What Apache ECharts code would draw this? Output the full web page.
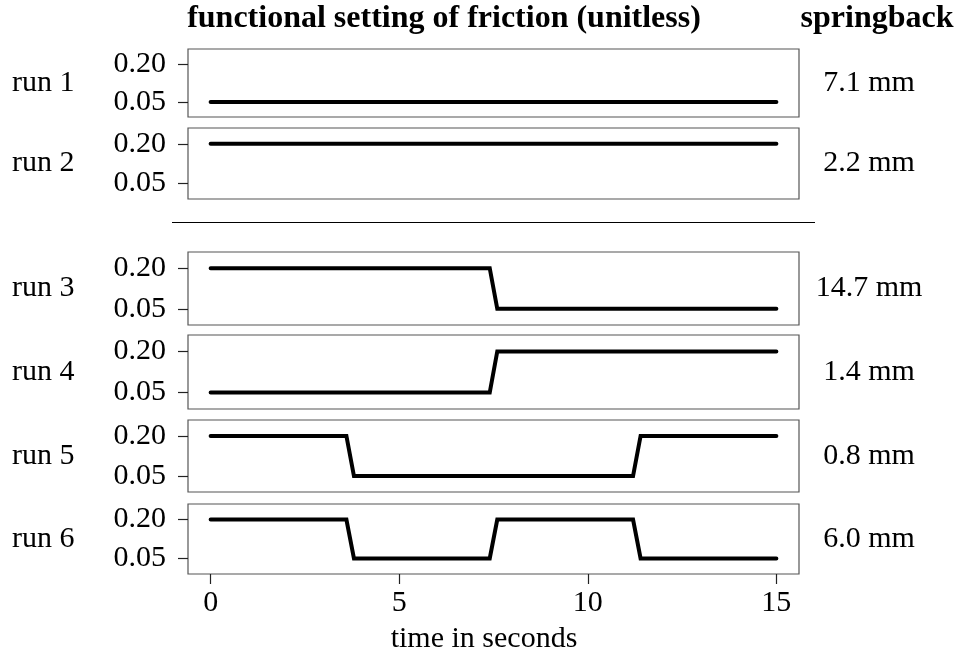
<!DOCTYPE html>
<html>
<head>
<meta charset="utf-8">
<script src="https://cdn.jsdelivr.net/npm/echarts@6/dist/echarts.min.js"></script>
<style>html,body{margin:0;padding:0;background:#fff}#c{width:957px;height:661px}</style>
</head>
<body>
<div id="c"></div>
<script>
// ---- data ----
const runLabels = ["run 1", "run 2", "run 3", "run 4", "run 5", "run 6"];
const springback = ["7.1 mm", "2.2 mm", "14.7 mm", "1.4 mm", "0.8 mm", "6.0 mm"];
const run1Time = [0, 15];
const run1Friction = [0.05, 0.05];
const run2Time = [0, 15];
const run2Friction = [0.2, 0.2];
const run3Time = [0, 7.4, 7.6, 15];
const run3Friction = [0.2, 0.2, 0.05, 0.05];
const run4Time = [0, 7.4, 7.6, 15];
const run4Friction = [0.05, 0.05, 0.2, 0.2];
const run5Time = [0, 3.6, 3.8, 11.2, 11.4, 15];
const run5Friction = [0.2, 0.2, 0.05, 0.05, 0.2, 0.2];
const run6Time = [0, 3.6, 3.8, 7.4, 7.6, 11.2, 11.4, 15];
const run6Friction = [0.2, 0.2, 0.05, 0.05, 0.2, 0.2, 0.05, 0.05];
const yTicks = [0.05, 0.2];
const xTicks = [0, 5, 10, 15];
const titleText = "functional setting of friction (unitless)";
const rightTitle = "springback";
const xAxisTitle = "time in seconds";

const times = [run1Time, run2Time, run3Time, run4Time, run5Time, run6Time];
const frictions = [run1Friction, run2Friction, run3Friction, run4Friction, run5Friction, run6Friction];

// ---- layout ----
const FONT = "'Liberation Serif', 'Times New Roman', serif";
const FS = 30;
const TFS = 32;
const panels = [[49, 117], [128, 199], [252, 325], [335, 409], [420, 492], [504, 574]];
const LEFT = 188, RIGHT = 799;

const grids = [], xAxes = [], yAxes = [], series = [], graphics = [];
panels.forEach((p, i) => {
  const last = i === panels.length - 1;
  grids.push({left: LEFT, width: RIGHT - LEFT, top: p[0], height: p[1] - p[0],
    show: true, borderColor: '#555', borderWidth: 1.2, containLabel: false});
  xAxes.push({type: 'value', gridIndex: i, min: -0.6, max: 15.6, position: 'bottom',
    axisLine: {show: false, onZero: false}, splitLine: {show: false},
    axisTick: {show: last, length: 10, inside: false, customValues: xTicks, lineStyle: {color: '#222', width: 1.2}},
    axisLabel: {show: last, customValues: xTicks, margin: 14, color: '#000', fontSize: FS, fontFamily: FONT}
  });
  yAxes.push({type: 'value', gridIndex: i, min: -0.01, max: 0.26, position: 'left',
    axisLine: {show: false, onZero: false}, splitLine: {show: false},
    axisTick: {show: true, length: 10, inside: false, customValues: yTicks, lineStyle: {color: '#222', width: 1.2}},
    axisLabel: {show: true, customValues: yTicks, margin: 22, color: '#000', fontSize: FS, fontFamily: FONT,
      formatter: v => v.toFixed(2)}
  });
  series.push({type: 'line', xAxisIndex: i, yAxisIndex: i, symbol: 'none', silent: true, animation: false,
    data: times[i].map((t, k) => [t, frictions[i][k]]),
    lineStyle: {color: '#000', width: 4, cap: 'round', join: 'miter'}});
  const cy = (p[0] + p[1]) / 2;
  graphics.push({type: 'text', x: 12, y: cy, style: {text: runLabels[i], fontSize: FS, fontFamily: FONT, fill: '#000',
    align: 'left', verticalAlign: 'middle'}});
  graphics.push({type: 'text', x: 869, y: cy, style: {text: springback[i], fontSize: FS, fontFamily: FONT, fill: '#000',
    align: 'center', verticalAlign: 'middle'}});
});
graphics.push({type: 'text', x: 444, y: 19, style: {text: titleText, fontSize: TFS, fontWeight: 'bold', fontFamily: FONT, fill: '#000', align: 'center', verticalAlign: 'middle'}});
graphics.push({type: 'text', x: 877, y: 19, style: {text: rightTitle, fontSize: TFS, fontWeight: 'bold', fontFamily: FONT, fill: '#000', align: 'center', verticalAlign: 'middle'}});
graphics.push({type: 'text', x: 484, y: 639, style: {text: xAxisTitle, fontSize: FS, fontFamily: FONT, fill: '#000', align: 'center', verticalAlign: 'middle'}});
graphics.push({type: 'line', shape: {x1: 172, y1: 222.5, x2: 815, y2: 222.5}, style: {stroke: '#000', lineWidth: 1.2}});

const chart = echarts.init(document.getElementById('c'), null, {renderer: 'canvas'});
chart.setOption({animation: false, backgroundColor: '#fff', grid: grids, xAxis: xAxes, yAxis: yAxes, series: series, graphic: graphics});
</script>
</body>
</html>
